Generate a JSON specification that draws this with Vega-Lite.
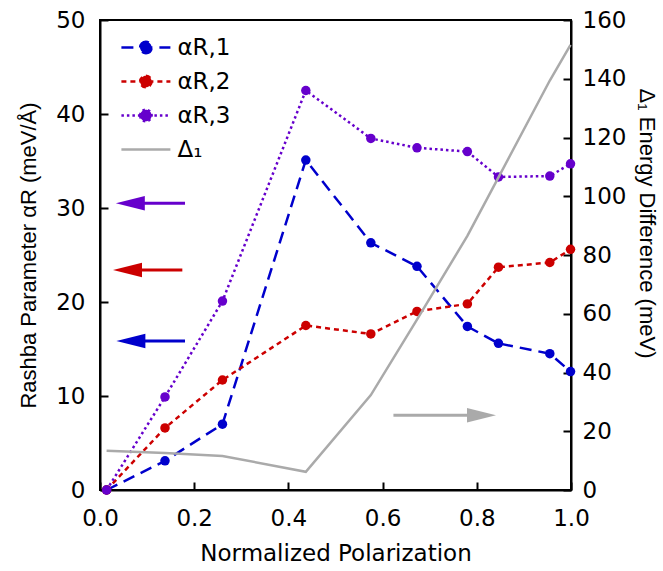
{
  "$schema": "https://vega.github.io/schema/vega-lite/v6.json",
  "width": 471,
  "height": 470,
  "autosize": "none",
  "padding": {"left": 100, "top": 20, "right": 92, "bottom": 81},
  "background": "white",
  "config": {
    "font": "DejaVu Sans",
    "view": {"stroke": "black", "strokeWidth": 2},
    "axis": {
      "domainColor": "black", "domainWidth": 2,
      "tickColor": "black", "tickWidth": 2, "tickSize": -8,
      "labelFont": "DejaVu Sans", "labelFontSize": 23, "titleFontSize": 23,
      "labelColor": "black", "titleColor": "black",
      "titleFontWeight": "normal", "grid": false,
      "labelFlush": false, "labelOverlap": false
    },
    "legend": {
      "orient": "none", "legendX": 34.4, "legendY": 16,
      "title": null, "labelFont": "DejaVu Sans", "labelFontSize": 23, "labelColor": "black",
      "symbolSize": 100, "symbolStrokeWidth": 2.5,
      "labelOffset": 20, "rowPadding": 10, "padding": 0
    }
  },
  "datasets": {
    "series": [
      {"series": "αR,1", "p": 0.014, "v": 0},
      {"series": "αR,1", "p": 0.138, "v": 3.1},
      {"series": "αR,1", "p": 0.26, "v": 7.0},
      {"series": "αR,1", "p": 0.437, "v": 35.1},
      {"series": "αR,1", "p": 0.575, "v": 26.3},
      {"series": "αR,1", "p": 0.673, "v": 23.8},
      {"series": "αR,1", "p": 0.78, "v": 17.4},
      {"series": "αR,1", "p": 0.846, "v": 15.6},
      {"series": "αR,1", "p": 0.955, "v": 14.5},
      {"series": "αR,1", "p": 0.999, "v": 12.6},
      {"series": "αR,2", "p": 0.014, "v": 0},
      {"series": "αR,2", "p": 0.138, "v": 6.6},
      {"series": "αR,2", "p": 0.26, "v": 11.7},
      {"series": "αR,2", "p": 0.437, "v": 17.5},
      {"series": "αR,2", "p": 0.575, "v": 16.6},
      {"series": "αR,2", "p": 0.673, "v": 19.0},
      {"series": "αR,2", "p": 0.78, "v": 19.8},
      {"series": "αR,2", "p": 0.846, "v": 23.7},
      {"series": "αR,2", "p": 0.955, "v": 24.2},
      {"series": "αR,2", "p": 0.999, "v": 25.6},
      {"series": "αR,3", "p": 0.014, "v": 0},
      {"series": "αR,3", "p": 0.138, "v": 9.9},
      {"series": "αR,3", "p": 0.26, "v": 20.1},
      {"series": "αR,3", "p": 0.437, "v": 42.5},
      {"series": "αR,3", "p": 0.575, "v": 37.4},
      {"series": "αR,3", "p": 0.673, "v": 36.4},
      {"series": "αR,3", "p": 0.78, "v": 36.0},
      {"series": "αR,3", "p": 0.846, "v": 33.3},
      {"series": "αR,3", "p": 0.955, "v": 33.4},
      {"series": "αR,3", "p": 0.999, "v": 34.7},
      {"series": "Δ₁", "p": 0.014, "v": 13.4},
      {"series": "Δ₁", "p": 0.138, "v": 12.6},
      {"series": "Δ₁", "p": 0.26, "v": 11.6},
      {"series": "Δ₁", "p": 0.437, "v": 6.2},
      {"series": "Δ₁", "p": 0.575, "v": 32.3},
      {"series": "Δ₁", "p": 0.673, "v": 58},
      {"series": "Δ₁", "p": 0.78, "v": 86.5},
      {"series": "Δ₁", "p": 0.846, "v": 106.4},
      {"series": "Δ₁", "p": 0.955, "v": 139.4},
      {"series": "Δ₁", "p": 0.999, "v": 151.5}
    ],
    "arrows": [
      {"series": "αR,3", "y": 30.5, "head": 0.0644, "tail": 0.1805, "dir": "left"},
      {"series": "αR,2", "y": 23.4, "head": 0.0584, "tail": 0.1748, "dir": "left"},
      {"series": "αR,1", "y": 15.85, "head": 0.0655, "tail": 0.1805, "dir": "left"},
      {"series": "Δ₁", "y": 7.94, "head": 0.81, "tail": 0.623, "dir": "right"}
    ]
  },
  "layer": [
    {
      "layer": [
        {
          "data": {"name": "series"},
          "transform": [{"filter": "datum.series !== 'Δ₁'"}],
          "mark": {"type": "line", "strokeWidth": 2.5},
          "encoding": {
            "x": {"field": "p", "type": "quantitative", "scale": {"domain": [0, 1], "nice": false},
              "axis": {"values": [0, 0.2, 0.4, 0.6, 0.8, 1.0], "format": ".1f", "title": "Normalized Polarization", "labelPadding": 25, "titlePadding": 12}},
            "y": {"field": "v", "type": "quantitative", "scale": {"domain": [0, 50], "nice": false},
              "axis": {"values": [0, 10, 20, 30, 40, 50], "title": "Rashba Parameter αR (meV/Å)", "titleFont": "Liberation Sans", "titleFontSize": 22, "labelPadding": 23, "titlePadding": 15}},
            "color": {
              "field": "series", "type": "nominal",
              "scale": {"domain": ["αR,1", "αR,2", "αR,3", "Δ₁"], "range": ["#0000cc", "#cc0000", "#6600cc", "#aaaaaa"]},
              "legend": {
                "encode": {
                  "symbols": {
                    "update": {
                      "shape": {"signal": "datum.value === 'Δ₁' ? 'M-4.9,0H4.9' : 'M-4.9,0H4.9M-1.15,0A1.15,1.15,0,1,1,1.15,0A1.15,1.15,0,1,1,-1.15,0Z'"},
                      "fill": {"signal": "datum.value === 'Δ₁' ? 'transparent' : scale('color', datum.value)"},
                      "opacity": {"value": 1}
                    }
                  }
                }
              }
            },
            "strokeDash": {
              "field": "series", "type": "nominal",
              "scale": {"domain": ["αR,1", "αR,2", "αR,3", "Δ₁"], "range": [[12, 7], [5, 4], [2.5, 3], [1, 0]]}
            }
          }
        },
        {
          "data": {"name": "series"},
          "transform": [{"filter": "datum.series !== 'Δ₁'"}],
          "mark": {"type": "point", "filled": true, "size": 90, "opacity": 1, "strokeWidth": 0},
          "encoding": {
            "x": {"field": "p", "type": "quantitative"},
            "y": {"field": "v", "type": "quantitative"},
            "color": {"field": "series", "type": "nominal"}
          }
        },
        {
          "data": {"name": "arrows"},
          "mark": {"type": "rule", "strokeWidth": 3},
          "encoding": {
            "x": {"field": "head", "type": "quantitative"},
            "x2": {"field": "tail"},
            "y": {"field": "y", "type": "quantitative"},
            "color": {"field": "series", "type": "nominal"}
          }
        },
        {
          "data": {"name": "arrows"},
          "mark": {"type": "point", "filled": true, "size": 841, "opacity": 1, "strokeWidth": 0},
          "encoding": {
            "x": {"field": "head", "type": "quantitative"},
            "y": {"field": "y", "type": "quantitative"},
            "color": {"field": "series", "type": "nominal"},
            "shape": {"field": "dir", "type": "nominal", "legend": null,
              "scale": {"domain": ["left", "right"], "range": ["M-1,0L1,-0.5L1,0.5Z", "M1,0L-1,-0.5L-1,0.5Z"]}}
          }
        }
      ]
    },
    {
      "data": {"name": "series"},
      "transform": [{"filter": "datum.series === 'Δ₁'"}],
      "mark": {"type": "line", "strokeWidth": 2.5},
      "encoding": {
        "x": {"field": "p", "type": "quantitative"},
        "y": {"field": "v", "type": "quantitative", "scale": {"domain": [0, 160], "nice": false},
          "axis": {"orient": "right", "values": [0, 20, 40, 60, 80, 100, 120, 140, 160], "title": "Δ₁ Energy Difference (meV)", "titleFont": "Liberation Sans", "titleFontSize": 22, "titleY": 203, "labelPadding": 19, "titlePadding": 9}},
        "color": {"field": "series", "type": "nominal"}
      }
    }
  ],
  "resolve": {"scale": {"y": "independent"}}
}
